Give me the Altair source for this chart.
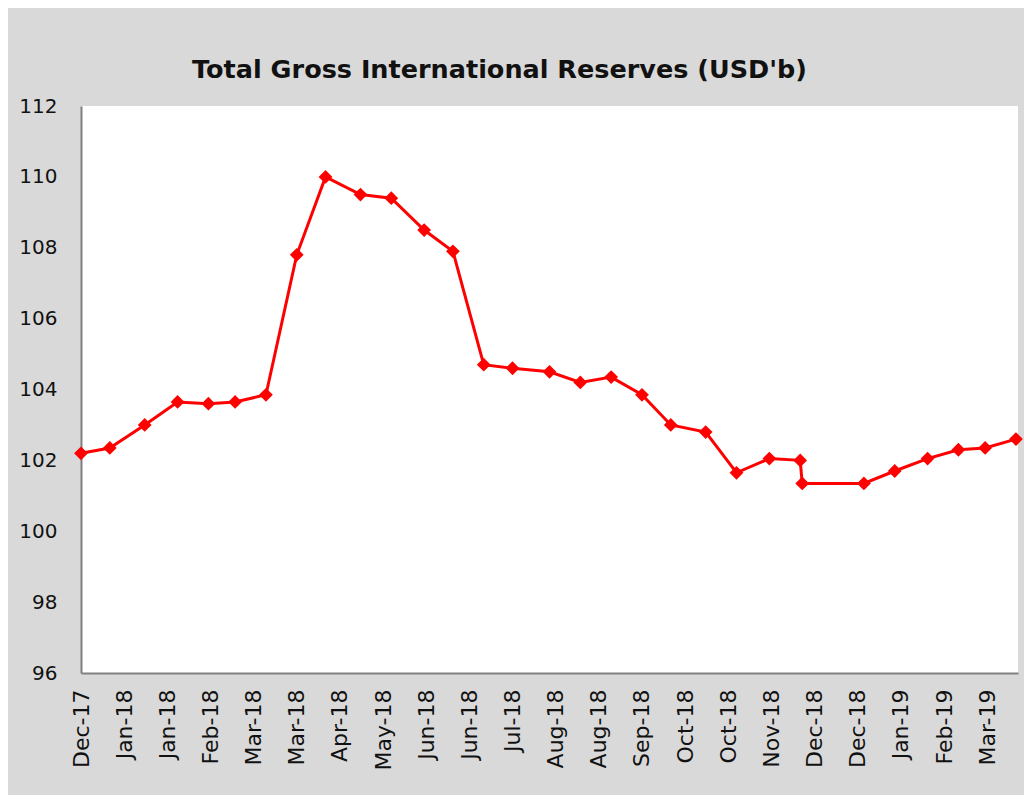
import altair as alt
import pandas as pd

dates = [
    "2017-12-15", "2017-12-29", "2018-01-15", "2018-01-31", "2018-02-15",
    "2018-02-28", "2018-03-15", "2018-03-30", "2018-04-13", "2018-04-30",
    "2018-05-15", "2018-05-31", "2018-06-14", "2018-06-29", "2018-07-13",
    "2018-07-31", "2018-08-15", "2018-08-30", "2018-09-14", "2018-09-28",
    "2018-10-15", "2018-10-30", "2018-11-15", "2018-11-30", "2018-12-01",
    "2018-12-31", "2019-01-15", "2019-01-31", "2019-02-15", "2019-02-28",
    "2019-03-15",
]
reserves = [
    102.2, 102.35, 103.0, 103.65, 103.6,
    103.65, 103.85, 107.8, 110.0, 109.5,
    109.4, 108.5, 107.9, 104.7, 104.6,
    104.5, 104.2, 104.35, 103.85, 103.0,
    102.8, 101.65, 102.05, 102.0, 101.35,
    101.35, 101.7, 102.05, 102.3, 102.35,
    102.6,
]

tick_dates = [
    (2017, 12, 15), (2018, 1, 5), (2018, 1, 26), (2018, 2, 16), (2018, 3, 9),
    (2018, 3, 30), (2018, 4, 20), (2018, 5, 11), (2018, 6, 1), (2018, 6, 22),
    (2018, 7, 13), (2018, 8, 3), (2018, 8, 24), (2018, 9, 14), (2018, 10, 5),
    (2018, 10, 26), (2018, 11, 16), (2018, 12, 7), (2018, 12, 28), (2019, 1, 18),
    (2019, 2, 8), (2019, 3, 1),
]
x_start = (2017, 12, 15)
x_end = (2019, 3, 16)
y_ticks = [96, 98, 100, 102, 104, 106, 108, 110, 112]

df = pd.DataFrame({"date": [d + "T00:00:00" for d in dates], "value": reserves})


def dt(t):
    return alt.DateTime(year=t[0], month=t[1], date=t[2])


x_enc = alt.X(
    "date:T",
    scale=alt.Scale(domain=[dt(x_start), dt(x_end)]),
    axis=alt.Axis(
        values=[dt(t) for t in tick_dates],
        format="%b-%y",
        labelAngle=270,
        title=None,
        labelPadding=16,
        labelFontSize=22,
    ),
)
y_enc = alt.Y(
    "value:Q",
    scale=alt.Scale(domain=[96, 112], nice=False, zero=False),
    axis=alt.Axis(values=y_ticks, title=None, labelPadding=24, labelFontSize=20),
)

base = alt.Chart(df).encode(x=x_enc, y=y_enc)
line = base.mark_line(color="#ff0000", strokeWidth=3)
pts = base.mark_point(shape="diamond", filled=True, color="#ff0000", size=190, opacity=1)

chart = (
    (line + pts)
    .properties(
        width=937,
        height=567,
        background="#d9d9d9",
        autosize=alt.AutoSizeParams(type="none"),
        padding={"left": 73, "top": 98, "right": 6, "bottom": 122},
        title=alt.TitleParams(
            "Total Gross International Reserves (USD'b)",
            font="DejaVu Sans",
            fontSize=25.5,
            fontWeight="bold",
            color="#111111",
            anchor="middle",
            dx=-50,
            offset=13,
        ),
    )
    .configure_view(fill="white", stroke=None)
    .configure_axis(
        grid=False,
        ticks=False,
        domainColor="#808080",
        domainWidth=2,
        labelFont="DejaVu Sans",
        labelColor="#111111",
    )
)

chart.save("out.html", embed_options={"renderer": "svg", "actions": False})
